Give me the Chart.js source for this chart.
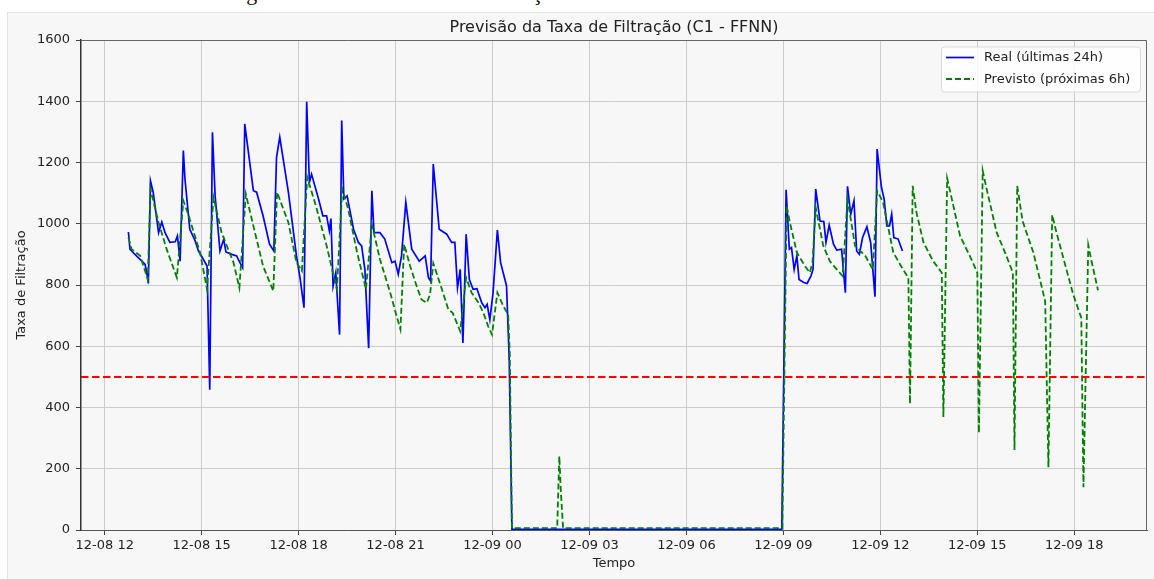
<!DOCTYPE html>
<html lang="pt">
<head>
<meta charset="utf-8">
<title>Previsão da Taxa de Filtração (C1 - FFNN)</title>
<script src="https://cdn.jsdelivr.net/npm/chart.js@4.4.1/dist/chart.umd.min.js"></script>
<style>
  html, body { margin: 0; padding: 0; background: #fff; overflow: hidden; }
  #legenda-fig {
    position: absolute; left: 228px; top: -18px;
    font: 22px/22px "Liberation Serif", serif; color: #111; white-space: nowrap;
  }
  #figura {
    position: absolute; left: 7px; top: 12px; width: 1146px; height: 566px;
    background: #f7f7f7; border-left: 1px solid #e4e4e4; border-top: 1px solid #e4e4e4;
  }
  #grafico { position: absolute; left: 0; top: 0; }
</style>
</head>
<body>
<div id="legenda-fig">Figura 5: Previsão da taxa de filtração do filtro C1</div>
<div id="figura"></div>
<canvas id="grafico" width="1154" height="579"></canvas>
<script>
// --- Dados: taxa real (últimas 24h) ---
const tempoReal = [
    '12-08 12:44', '12-08 12:47', '12-08 12:50', '12-08 12:59', '12-08 13:09', '12-08 13:15', '12-08 13:18', '12-08 13:21', '12-08 13:25', '12-08 13:30',
    '12-08 13:40', '12-08 13:46', '12-08 13:52', '12-08 14:01', '12-08 14:11', '12-08 14:15', '12-08 14:20', '12-08 14:26', '12-08 14:29', '12-08 14:38',
    '12-08 14:48', '12-08 14:54', '12-08 15:03', '12-08 15:10', '12-08 15:15', '12-08 15:20', '12-08 15:25', '12-08 15:34', '12-08 15:41', '12-08 15:45',
    '12-08 15:56', '12-08 16:05', '12-08 16:08', '12-08 16:16', '12-08 16:20', '12-08 16:36', '12-08 16:42', '12-08 16:54', '12-08 17:06', '12-08 17:14',
    '12-08 17:19', '12-08 17:25', '12-08 17:41', '12-08 17:56', '12-08 18:03', '12-08 18:10', '12-08 18:15', '12-08 18:20', '12-08 18:24', '12-08 18:37',
    '12-08 18:45', '12-08 18:52', '12-08 18:57', '12-08 19:00', '12-08 19:04', '12-08 19:09', '12-08 19:16', '12-08 19:20', '12-08 19:24', '12-08 19:30',
    '12-08 19:42', '12-08 19:51', '12-08 19:57', '12-08 20:03', '12-08 20:10', '12-08 20:16', '12-08 20:20', '12-08 20:31', '12-08 20:40', '12-08 20:53',
    '12-08 20:59', '12-08 21:05', '12-08 21:11', '12-08 21:19', '12-08 21:30', '12-08 21:44', '12-08 21:55', '12-08 22:01', '12-08 22:05', '12-08 22:10',
    '12-08 22:21', '12-08 22:35', '12-08 22:44', '12-08 22:50', '12-08 22:55', '12-08 23:00', '12-08 23:05', '12-08 23:11', '12-08 23:17', '12-08 23:24',
    '12-08 23:31', '12-08 23:40', '12-08 23:46', '12-08 23:50', '12-08 23:55', '12-09 00:01', '12-09 00:09', '12-09 00:15', '12-09 00:23', '12-09 00:26',
    '12-09 00:31', '12-09 00:36', '12-09 08:57',
    '12-09 09:05', '12-09 09:11', '12-09 09:15', '12-09 09:20', '12-09 09:25', '12-09 09:29', '12-09 09:37', '12-09 09:44', '12-09 09:51', '12-09 09:55',
    '12-09 10:00', '12-09 10:08', '12-09 10:15', '12-09 10:19', '12-09 10:25', '12-09 10:33', '12-09 10:39', '12-09 10:48', '12-09 10:55',
    '12-09 10:59', '12-09 11:05', '12-09 11:11', '12-09 11:16', '12-09 11:21', '12-09 11:27', '12-09 11:35', '12-09 11:42', '12-09 11:50',
    '12-09 11:54', '12-09 12:02', '12-09 12:07', '12-09 12:12', '12-09 12:17', '12-09 12:21', '12-09 12:25', '12-09 12:33', '12-09 12:41'
];
const taxaReal = [
    973, 916, 911, 895, 878, 867, 841, 805, 1140, 1103,
    971, 1006, 971, 939, 941, 960, 878, 1239, 1146, 982,
    944, 911, 884, 862, 458, 1299, 1091, 911, 950, 908,
    900, 895, 884, 857, 1326, 1108, 1103, 1026, 933, 911,
    1217, 1283, 1103, 895, 818, 726, 1398, 1135, 1162, 1081,
    1026, 1026, 977, 1017, 797, 840, 638, 1337, 1081, 1091,
    982, 939, 928, 851, 594, 1108, 971, 971, 950, 873,
    878, 835, 895, 1070, 917, 878, 895, 824, 813, 1195,
    982, 966, 939, 939, 791, 851, 611, 966, 818, 786,
    788, 742, 726, 737, 687, 775, 979, 873, 818, 797,
    556, 2, 2,
    1111, 917, 922, 851, 895, 818, 809, 805, 829, 851,
    1113, 1009, 1007, 939, 995, 933, 914, 917, 775,
    1122, 1031, 1075, 911, 900, 955, 990, 939, 762,
    1244, 1119, 1081, 993, 993, 1031, 955, 950, 911
];

// --- Dados: taxa prevista (próximas 6h) ---
const tempoPrevisto = [
    '12-08 12:44', '12-08 12:50', '12-08 13:06', '12-08 13:12', '12-08 13:20', '12-08 13:25', '12-08 13:40', '12-08 13:55', '12-08 14:14', '12-08 14:26',
    '12-08 14:35', '12-08 14:57', '12-08 15:10', '12-08 15:22', '12-08 15:37', '12-08 15:59', '12-08 16:10', '12-08 16:22', '12-08 16:36', '12-08 16:54',
    '12-08 17:13', '12-08 17:20', '12-08 17:41', '12-08 17:56', '12-08 18:06', '12-08 18:16', '12-08 18:32', '12-08 18:52', '12-08 19:11', '12-08 19:21',
    '12-08 19:32', '12-08 19:48', '12-08 20:05', '12-08 20:16', '12-08 20:31', '12-08 20:50', '12-08 21:02', '12-08 21:09', '12-08 21:16', '12-08 21:27',
    '12-08 21:39', '12-08 21:48', '12-08 21:58', '12-08 22:04', '12-08 22:10', '12-08 22:26', '12-08 22:38', '12-08 22:46', '12-08 23:00', '12-08 23:11',
    '12-08 23:21', '12-08 23:34', '12-08 23:43', '12-08 23:52', '12-08 23:59', '12-09 00:09', '12-09 00:20', '12-09 00:29', '12-09 00:32', '12-09 00:36',
    '12-09 02:00', '12-09 02:04', '12-09 02:07', '12-09 02:11', '12-09 08:58', '12-09 09:06', '12-09 09:12', '12-09 09:25', '12-09 09:40', '12-09 09:49',
    '12-09 09:54', '12-09 10:00', '12-09 10:14', '12-09 10:26', '12-09 10:39', '12-09 10:50', '12-09 10:59', '12-09 11:13', '12-09 11:32', '12-09 11:46',
    '12-09 11:54', '12-09 12:05', '12-09 12:24', '12-09 12:42', '12-09 12:52', '12-09 12:55', '12-09 13:00', '12-09 13:07', '12-09 13:20', '12-09 13:38',
    '12-09 13:54', '12-09 13:57', '12-09 14:04', '12-09 14:12', '12-09 14:28', '12-09 14:49', '12-09 15:00', '12-09 15:03', '12-09 15:10', '12-09 15:18',
    '12-09 15:36', '12-09 15:54', '12-09 16:06', '12-09 16:09', '12-09 16:14', '12-09 16:24', '12-09 16:44', '12-09 17:06', '12-09 17:12', '12-09 17:19',
    '12-09 17:27', '12-09 17:58', '12-09 18:13', '12-09 18:17', '12-09 18:26', '12-09 18:32', '12-09 18:44'
];
const taxaPrevista = [
    955, 917, 895, 862, 818, 1113, 1004, 917, 824, 1075,
    1031, 906, 786, 1086, 971, 874, 791, 1097, 993, 862,
    780, 1103, 1004, 873, 846, 1152, 1059, 928, 786, 1113,
    1048, 911, 786, 998, 884, 775, 698, 655, 933, 862,
    797, 753, 742, 769, 871, 786, 720, 709, 649, 824,
    775, 742, 709, 665, 638, 775, 731, 704, 578, 6,
    6, 241, 120, 6, 6, 1059, 1004, 906, 862, 840,
    873, 1053, 928, 878, 851, 829, 1081, 928, 895, 851,
    1108, 1070, 906, 851, 824, 412, 1124, 1037, 939, 878,
    840, 369, 1148, 1086, 960, 884, 840, 317, 1173, 1108,
    971, 895, 840, 261, 1124, 1009, 906, 747, 205, 1029,
    971, 769, 693, 140, 930, 878, 783
];

// Limite mínimo de filtração (linha vermelha)
const limiteMinimo = 500;

// Eixo do tempo
const rotulosTempo = ['12-08 12', '12-08 15', '12-08 18', '12-08 21', '12-09 00', '12-09 03',
                      '12-09 06', '12-09 09', '12-09 12', '12-09 15', '12-09 18'];
const limitesTempo = ['12-08 11:16', '12-09 20:15'];
const rotulosTaxa = [0, 200, 400, 600, 800, 1000, 1200, 1400, 1600];

// converte "MM-DD HH:MM" em horas a partir de 12-08 00:00
function horas(s) {
    const partes = s.split(' ');
    const dia = Number(partes[0].split('-')[1]);
    const hm = partes[1].split(':').map(Number);
    return (dia - 8) * 24 + hm[0] + (hm[1] || 0) / 60;
}

function pontos(tempos, valores) {
    return tempos.map((t, i) => ({ x: horas(t), y: valores[i] }));
}

const xMin = horas(limitesTempo[0]);
const xMax = horas(limitesTempo[1]);

Chart.defaults.font.family = '"DejaVu Sans", sans-serif';
Chart.defaults.color = '#222';

// título, moldura do eixo e legenda no estilo matplotlib
const decoracao = {
    id: 'decoracao',
    afterDatasetsDraw(chart) {
        const ctx = chart.ctx;
        const a = chart.chartArea;
        ctx.save();
        ctx.strokeStyle = '#666';
        ctx.lineWidth = 1;
        ctx.beginPath();
        ctx.moveTo(a.left, a.top + 0.5);
        ctx.lineTo(a.right - 0.5, a.top + 0.5);
        ctx.lineTo(a.right - 0.5, a.bottom);
        ctx.stroke();

        // título
        ctx.fillStyle = '#222';
        ctx.font = '16px "DejaVu Sans", sans-serif';
        ctx.textAlign = 'center';
        ctx.textBaseline = 'alphabetic';
        ctx.fillText('Previsão da Taxa de Filtração (C1 - FFNN)', (a.left + a.right) / 2, 32);

        // legenda
        const bx = a.right - 206, by = a.top + 6.5, bw = 199, bh = 45;
        ctx.beginPath();
        ctx.roundRect(bx + 0.5, by + 0.5, bw, bh, 3);
        ctx.fillStyle = 'rgba(255,255,255,0.8)';
        ctx.fill();
        ctx.strokeStyle = '#d9d9d9';
        ctx.stroke();

        const itens = [chart.data.datasets[0], chart.data.datasets[1]];
        ctx.font = '13px "DejaVu Sans", sans-serif';
        ctx.textAlign = 'left';
        ctx.textBaseline = 'middle';
        itens.forEach((ds, i) => {
            const y = by + 11 + i * 21.5;
            ctx.beginPath();
            ctx.setLineDash(ds.borderDash || []);
            ctx.strokeStyle = ds.borderColor;
            ctx.lineWidth = ds.borderWidth;
            ctx.moveTo(bx + 5, y);
            ctx.lineTo(bx + 33, y);
            ctx.stroke();
            ctx.setLineDash([]);
            ctx.fillStyle = '#222';
            ctx.fillText(ds.label, bx + 43, y + 0.5);
        });
        ctx.restore();
    }
};

const ctx = document.getElementById('grafico').getContext('2d');
new Chart(ctx, {
    type: 'line',
    data: {
        datasets: [
            {
                label: 'Real (últimas 24h)',
                data: pontos(tempoReal, taxaReal),
                borderColor: '#0000ff',
                borderWidth: 1.7,
                pointRadius: 0,
                tension: 0,
                order: 3
            },
            {
                label: 'Previsto (próximas 6h)',
                data: pontos(tempoPrevisto, taxaPrevista),
                borderColor: '#008000',
                borderWidth: 1.8,
                borderDash: [6, 3],
                pointRadius: 0,
                tension: 0,
                order: 2
            },
            {
                label: 'Limite',
                data: [{ x: xMin, y: limiteMinimo }, { x: xMax, y: limiteMinimo }],
                borderColor: '#ff0000',
                borderWidth: 2,
                borderDash: [7.5, 3.5],
                pointRadius: 0,
                order: 1
            }
        ]
    },
    options: {
        responsive: false,
        animation: false,
        layout: { padding: { left: 0, top: 40, right: 7, bottom: 0 } },
        plugins: {
            legend: { display: false },
            tooltip: { enabled: false },
            title: { display: false }
        },
        scales: {
            x: {
                type: 'linear',
                min: xMin,
                max: xMax,
                afterBuildTicks: (scale) => {
                    scale.ticks = rotulosTempo.map(r => ({ value: horas(r) }));
                },
                afterFit: (scale) => { scale.height = 49; },
                ticks: {
                    autoSkip: false,
                    maxRotation: 0,
                    padding: 3,
                    font: { size: 13 },
                    color: '#222',
                    callback: (v, i) => rotulosTempo[i]
                },
                grid: { color: '#cccccc', lineWidth: 1, tickLength: 5, tickColor: '#444' },
                border: { color: '#555', width: 1 },
                title: {
                    display: true,
                    text: 'Tempo',
                    font: { size: 13 },
                    color: '#222',
                    padding: { top: 0, bottom: 8 }
                }
            },
            y: {
                min: 0,
                max: 1600,
                afterBuildTicks: (scale) => {
                    scale.ticks = rotulosTaxa.map(v => ({ value: v }));
                },
                afterFit: (scale) => { scale.width = 81; },
                ticks: {
                    padding: 6,
                    font: { size: 13 },
                    color: '#222',
                    callback: (v) => String(v)
                },
                grid: { color: '#cccccc', lineWidth: 1, tickLength: 5, tickColor: '#444' },
                border: { color: '#333', width: 1.5 },
                title: {
                    display: true,
                    text: 'Taxa de Filtração',
                    font: { size: 13 },
                    color: '#222',
                    padding: { top: 14, bottom: 0 }
                }
            }
        }
    },
    plugins: [decoracao]
});
</script>
</body>
</html>
